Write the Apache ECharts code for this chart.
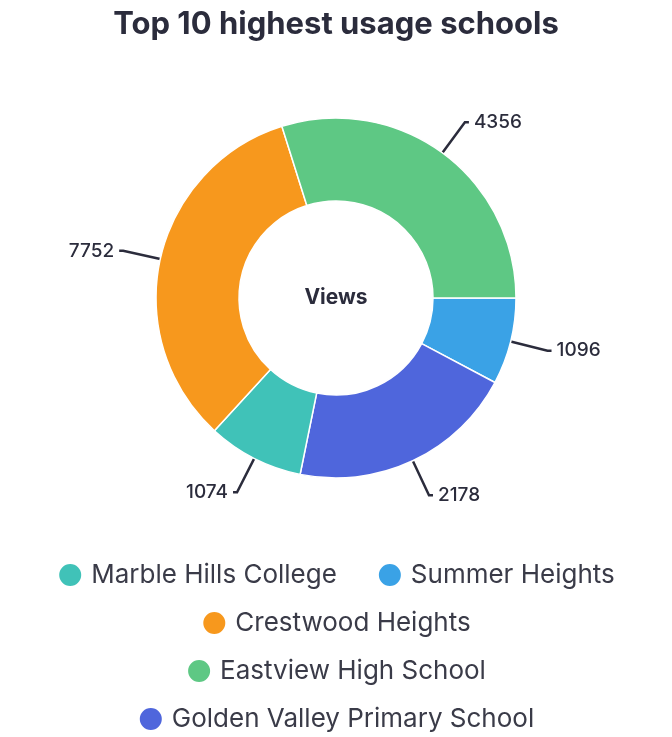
<!DOCTYPE html>
<html><head><meta charset="utf-8">
<script src="https://cdn.jsdelivr.net/npm/echarts@6/dist/echarts.min.js"></script>
<style>html,body{margin:0;padding:0;background:#fff}#c{width:672px;height:737px}</style>
</head><body><div id="c"></div>
<script>
const names = ["Summer Heights","Golden Valley Primary School","Marble Hills College","Crestwood Heights","Eastview High School"];
const values = [1096,2178,1074,7752,4356];
// slice sizes (degrees) as drawn in the reference, which are not proportional to the labelled values
const sliceAngles = [28,73.5,31,120,107.5];
const colors = ["#3aa2e6","#4f66dc","#40c2b8","#f7981d","#5ec884"];
const legendRows = [["Marble Hills College","Summer Heights"],["Crestwood Heights"],["Eastview High School"],["Golden Valley Primary School"]];
const chart = echarts.init(document.getElementById('c'));
chart.setOption({
  title:{text:"Top 10 highest usage schools",left:"center",top:4,textStyle:{fontFamily:"Inter",fontSize:31,fontWeight:"bold",color:"#2b2c3c"}},
  legend:legendRows.map((row,i)=>({data:row,top:557+i*48,left:"center",icon:"circle",itemWidth:24,itemHeight:24,itemGap:40,
    textStyle:{fontFamily:"Inter",fontSize:26,color:"#3a3b48",padding:[0,0,0,4]}})),
  series:[{type:"pie",center:[336,298],radius:[97,180],startAngle:0,clockwise:true,
    data:names.map((n,i)=>({name:n,value:sliceAngles[i],shown:values[i],itemStyle:{color:colors[i]}})),
    itemStyle:{borderColor:"#fff",borderWidth:1.5},
    label:{show:true,formatter:p=>values[p.dataIndex],fontFamily:"Inter",fontSize:19,fontWeight:500,color:"#2b2c3c"},
    labelLine:{show:true,length:38,length2:4,lineStyle:{color:"#2b2c3c",width:2.5}},
    emphasis:{disabled:true}
  }],
  graphic:[{type:"text",left:"center",top:287,style:{text:"Views",font:"bold 21px Inter",fill:"#2b2c3c"}}]
});
</script></body></html>
